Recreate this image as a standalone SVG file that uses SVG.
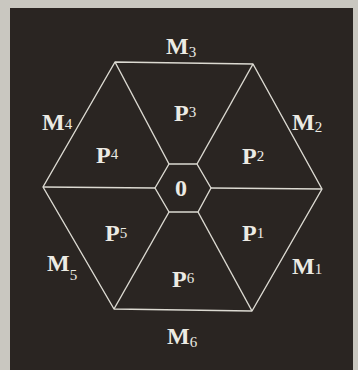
<svg xmlns="http://www.w3.org/2000/svg" width="358" height="370" viewBox="0 0 358 370">
<style>
.bg{fill:#2a2522}
.ln{fill:none;stroke:#dcdad2;stroke-width:1.4;stroke-linejoin:round}
.lb{font-family:"Liberation Serif","DejaVu Serif",serif;font-weight:bold;fill:#ecebe4;font-size:24px}
.sb{font-size:15px;font-weight:normal}
</style>
<rect x="0" y="0" width="358" height="370" fill="#c9c7c0"/>
<rect class="bg" x="10" y="8" width="343" height="362"/>
<g id="connectors">
<polygon class="ln" points="115,62 253,64 322,189 252,311 114,309 43,187"/>
<polygon class="ln" points="169,164 197,164 211,188 198,212 169,212 155,188"/>
<line class="ln" x1="115" y1="62" x2="169" y2="164"/>
<line class="ln" x1="253" y1="64" x2="197" y2="164"/>
<line class="ln" x1="322" y1="189" x2="211" y2="188"/>
<line class="ln" x1="252" y1="311" x2="198" y2="212"/>
<line class="ln" x1="114" y1="309" x2="169" y2="212"/>
<line class="ln" x1="43" y1="187" x2="155" y2="188"/>
</g>
<g id="O"><text class="lb" x="175" y="196" font-size="20">0</text></g>
<g id="P1"><text class="lb" x="242" y="241">P<tspan class="sb" dy="-3">1</tspan></text></g>
<g id="P2"><text class="lb" x="242" y="164">P<tspan class="sb" dy="-3">2</tspan></text></g>
<g id="P3"><text class="lb" x="174" y="121">P<tspan class="sb" dy="-4">3</tspan></text></g>
<g id="P4"><text class="lb" x="96" y="163">P<tspan class="sb" dy="-4">4</tspan></text></g>
<g id="P5"><text class="lb" x="105" y="241">P<tspan class="sb" dy="-3">5</tspan></text></g>
<g id="P6"><text class="lb" x="172" y="287">P<tspan class="sb" dy="-4">6</tspan></text></g>
<g id="M1"><text class="lb" x="292" y="274">M<tspan class="sb" dy="0">1</tspan></text></g>
<g id="M2"><text class="lb" x="292" y="130">M<tspan class="sb" dy="2">2</tspan></text></g>
<g id="M3"><text class="lb" x="166" y="54">M<tspan class="sb" dy="3">3</tspan></text></g>
<g id="M4"><text class="lb" x="42" y="130">M<tspan class="sb" dy="-1">4</tspan></text></g>
<g id="M5"><text class="lb" x="47" y="271">M<tspan class="sb" dy="9">5</tspan></text></g>
<g id="M6"><text class="lb" x="167" y="344">M<tspan class="sb" dy="3">6</tspan></text></g>
</svg>
